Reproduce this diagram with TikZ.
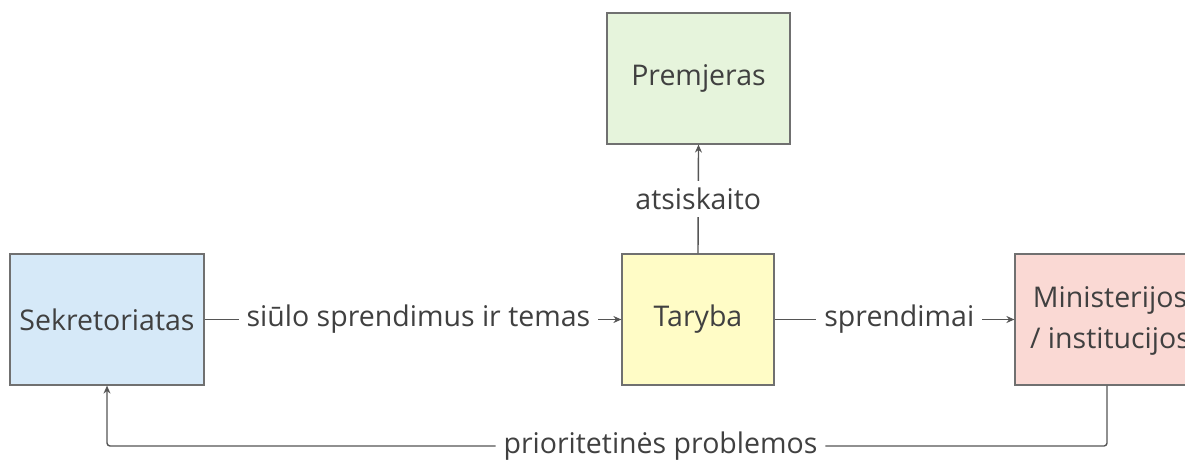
\documentclass[tikz,border=0pt]{standalone}
\usepackage{fontspec}
\setmainfont{Open Sans}
\usetikzlibrary{arrows.meta}
\definecolor{bluef}{HTML}{D6E9F8}
\definecolor{greenf}{HTML}{E6F4DC}
\definecolor{yellowf}{HTML}{FFFCC6}
\definecolor{redf}{HTML}{FAD9D4}
\definecolor{bord}{HTML}{707070}
\definecolor{txt}{HTML}{404040}
\definecolor{ln}{HTML}{555555}
\tikzset{
  boxnode/.style={draw=bord, line width=1.2pt, minimum height=131pt, inner sep=0pt, font=\fontsize{28.5}{41}\selectfont, text=txt, align=center},
  conn/.style={draw=ln, line width=1.4pt, -{Stealth[length=8pt,width=7pt]}},
  lbl/.style={fill=white, inner xsep=8pt, inner ysep=2pt, font=\fontsize{28.5}{34}\selectfont, text=txt}
}
\begin{document}
\begin{tikzpicture}[x=1pt,y=-1pt]
\useasboundingbox (0,0) rectangle (1185,462);
\begin{scope}
\clip (0,0) rectangle (1185,462);
\node[boxnode, fill=bluef, minimum width=194pt] (sek) at (107,319.5) {\raisebox{-2pt}{Sekretoriatas}};
\node[boxnode, fill=greenf, minimum width=183pt] (prem) at (698.5,78.5) {\raisebox{-3pt}{Premjeras}};
\node[boxnode, fill=yellowf, minimum width=152pt] (tar) at (698,319.5) {\raisebox{-2pt}{Taryba}};
\node[boxnode, fill=redf, minimum width=190pt] (min) at (1110,319.5) {\raisebox{-4pt}{\begin{tabular}{@{}c@{}}Ministerijos\\/ institucijos\end{tabular}}};
\coordinate (c1) at (1107,446);
\coordinate (c2) at (107,446);
\draw[conn] (sek.east) -- node[lbl, pos=0.513] {siūlo sprendimus ir temas} (tar.west);
\draw[conn] (tar.east) -- node[lbl, pos=0.52] {sprendimai} (min.west);
\draw[conn] (tar.north) -- node[lbl, inner xsep=2pt, inner ysep=7pt] {atsiskaito} (prem.south);
\draw[conn, rounded corners=3pt] (min.south -| c1) -- (c1) -- node[lbl, pos=0.4465] {prioritetinės problemos} (c2) -- (sek.south);
\end{scope}
\end{tikzpicture}
\end{document}
